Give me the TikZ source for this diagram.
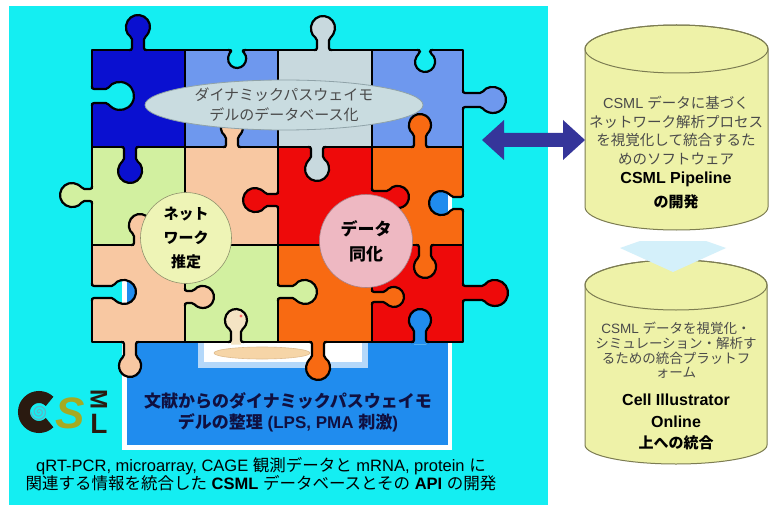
\documentclass[tikz,border=0pt]{standalone}
\usepackage{fontspec}
\setmainfont{Liberation Sans}
\newfontfamily\jp{Noto Sans CJK JP}
\usetikzlibrary{shapes.geometric}

\definecolor{bgcyan}{HTML}{14EEF2}
\definecolor{boxblue}{HTML}{208CEE}
\definecolor{insetblue}{HTML}{B4D8FA}
\definecolor{pdkblue}{HTML}{0A10D0}
\definecolor{pltblue}{HTML}{6E98EE}
\definecolor{pgray}{HTML}{C8D9DE}
\definecolor{pgreen}{HTML}{D2F0A0}
\definecolor{ppeach}{HTML}{F8C8A2}
\definecolor{pred}{HTML}{EE0A0A}
\definecolor{porange}{HTML}{F86A12}
\definecolor{skin}{HTML}{F4E4C4}
\definecolor{ellfill}{HTML}{C9DCE0}
\definecolor{elline}{HTML}{8FA2A8}
\definecolor{netfill}{HTML}{EEF4B6}
\definecolor{assimfill}{HTML}{EEB8C2}
\definecolor{cylfill}{HTML}{EEF2A8}
\definecolor{cylline}{HTML}{7C7C52}
\definecolor{navyarrow}{HTML}{35359A}
\definecolor{palearrow}{HTML}{D4F0FA}
\definecolor{logobrown}{HTML}{2A1A10}
\definecolor{logoolive}{HTML}{A6AA22}
\definecolor{logoteal}{HTML}{58B8C8}
\definecolor{textgray}{HTML}{4A4A4A}
\definecolor{boxtext}{HTML}{101040}

\newcommand{\J}[1]{{\jp #1}}

% cyan ground, with the blue panel (white rim) lying under the puzzle
\newcommand{\underlayer}{%
  \fill[bgcyan] (9,6) rectangle (548,505);
  \fill[white] (122,150) rectangle (452,450);
  \fill[boxblue] (127,150) rectangle (448,445);}

% puzzle tab: #1 colour, #2/#3 base point, #4 direction, #5 centre distance, #6 radius, #7 neck half-width
\newcommand{\pztab}[7]{%
  \begin{scope}[shift={(#2,#3)},rotate=#4]
    \fill[#1] (-2.5,-#7) -- ({#5-sqrt(#6*#6-#7*#7)},-#7)
      arc[start angle={-180+asin(#7/#6)}, end angle={180-asin(#7/#6)}, radius=#6]
      -- (-2.5,#7) -- cycle;
    \draw[pzline] (0,{-#7-3}) -- (0,-#7) -- ({#5-sqrt(#6*#6-#7*#7)},-#7)
      arc[start angle={-180+asin(#7/#6)}, end angle={180-asin(#7/#6)}, radius=#6]
      -- (0,#7) -- (0,{#7+3});
  \end{scope}}

% puzzle blank that lets the ground show through: #1/#2 base point, #3 direction, #4 centre distance, #5 radius, #6 neck half-width
\newcommand{\pzhole}[6]{%
  \begin{scope}[shift={(#1,#2)},rotate=#3]
    \begin{scope}
      \clip (-2.5,-#6) -- ({#4-sqrt(#5*#5-#6*#6)},-#6)
        arc[start angle={-180+asin(#6/#5)}, end angle={180-asin(#6/#5)}, radius=#5]
        -- (-2.5,#6) -- cycle;
      \begin{scope}[reset cm]\underlayer\end{scope}
    \end{scope}
    \draw[pzline] (0,{-#6-3}) -- (0,-#6) -- ({#4-sqrt(#5*#5-#6*#6)},-#6)
      arc[start angle={-180+asin(#6/#5)}, end angle={180-asin(#6/#5)}, radius=#5]
      -- (0,#6) -- (0,{#6+3});
  \end{scope}}

\begin{document}
\begin{tikzpicture}[x=1pt,y=-1pt,
  pzline/.style={line width=2.2pt, black, line join=round, rounded corners=2pt},
  cyl/.style={draw=cylline, line width=1pt, fill=cylfill},
  cyltext/.style={text=textgray, font=\fontsize{14.5}{16}\selectfont, inner sep=0pt},
  cylbold/.style={text=black, font=\bfseries\fontsize{16}{18}\selectfont, inner sep=0pt}]
\useasboundingbox (0,0) rectangle (770,505);
\fill[white] (0,0) rectangle (770,505);
\underlayer

% inset picture frame in the blue panel
\fill[insetblue] (198,300) rectangle (368,368);
\fill[white] (204,300) rectangle (362,362);

% puzzle pieces
\fill[pdkblue] (92,50) rectangle (185,147);
\fill[pltblue] (185,50) rectangle (278,147);
\fill[pgray]   (278,50) rectangle (372,147);
\fill[pltblue] (372,50) rectangle (463,147);
\fill[pgreen]  (92,147) rectangle (185,245);
\fill[ppeach]  (185,147) rectangle (278,245);
\fill[pred]    (278,147) rectangle (372,245);
\fill[porange] (372,147) rectangle (463,245);
\fill[ppeach]  (92,245) rectangle (185,342);
\fill[pgreen]  (185,245) rectangle (278,342);
\fill[porange] (278,245) rectangle (372,342);
\fill[pred]    (372,245) rectangle (463,342);
\draw[pzline, rounded corners=0pt] (92,50) rectangle (463,342);
\draw[pzline, rounded corners=0pt] (185,50) -- (185,342) (278,50) -- (278,342) (372,50) -- (372,342)
  (92,147) -- (463,147) (92,245) -- (463,245);

% tabs and blanks
\pztab{pdkblue}{138}{50}{90}{23}{12}{6}
\pzhole{92}{96}{0}{28}{14}{7}
\pztab{pdkblue}{130}{147}{-90}{24}{12}{6}
\pzhole{237}{50}{-90}{9}{9}{6}
\pztab{ppeach}{232}{147}{90}{20}{11}{6}
\pztab{pgray}{323}{50}{90}{22}{12}{6}
\pztab{pgray}{317}{147}{-90}{22}{12}{6}
\pzhole{425}{50}{-90}{12}{10}{5}
\pztab{pltblue}{463}{100}{0}{30}{13}{7}
\pztab{porange}{420}{147}{90}{22}{11}{6}
\pztab{pgreen}{92}{195}{180}{20}{12}{6}
\pztab{ppeach}{140}{245}{90}{20}{11}{6}
\pztab{pred}{278}{200}{180}{23}{12}{6}
\pztab{pred}{372}{197}{0}{26}{11}{6}
\pzhole{463}{203}{180}{22}{12}{6}
\pzhole{92}{292}{0}{32}{12}{6}
\pztab{ppeach}{130}{342}{-90}{24}{11}{6}
\pztab{ppeach}{185}{297}{0}{18}{11}{6}
\pztab{pgreen}{278}{292}{0}{27}{12}{6}
\pztab{porange}{318}{342}{-90}{26}{12}{6}
\pztab{porange}{372}{297}{0}{22}{10}{5}
\pztab{porange}{425}{245}{-90}{22}{11}{6}
\pztab{pred}{463}{293}{0}{32}{13}{7}
\pzhole{420}{342}{90}{22}{11}{6}

% figure resting in the inset picture
\pztab{skin}{236}{342}{90}{22}{11}{5}
\fill[skin!85!orange, draw=skin!60!brown, line width=0.6pt] (262,353) ellipse [x radius=48, y radius=6];
\fill[red!60] (241,316) circle (1.6);

% labels on the puzzle
\node[ellipse, draw=elline, line width=0.8pt, fill=ellfill, minimum width=278, minimum height=50,
  inner sep=0pt, align=center, text=textgray, font=\jp\fontsize{15}{20}\selectfont] (dbell) at (284,105)
  {ダイナミックパスウェイモ\\デルのデータベース化};
\node[circle, draw=netfill!60!black, line width=0.6pt, fill=netfill, minimum size=91, inner sep=0pt,
  align=center, font=\jp\bfseries\fontsize{15}{24}\selectfont] (netest) at (186,238)
  {ネット\\ワーク\\推定};
\node[circle, draw=assimfill!70!black, line width=0.6pt, fill=assimfill, minimum size=93, inner sep=0pt,
  align=center, font=\jp\bfseries\fontsize{17}{25}\selectfont] (assim) at (366,241)
  {データ\\同化};

% blue panel caption
\node[align=center, text=boxtext, font=\bfseries\fontsize{17}{21}\selectfont] (lit) at (288,412)
  {\J{文献からのダイナミックパスウェイモ}\\\J{デルの整理} (LPS, PMA \J{刺激})};

% database caption
\node[align=center, text=black, font=\fontsize{16.5}{18}\selectfont] (dbdev) at (261,474)
  {qRT-PCR, microarray, CAGE \J{観測データと} mRNA, protein \J{に}\\
   \J{関連する情報を統合した} \textbf{CSML} \J{データベースとその} \textbf{API} \J{の開発}};

% CSML logo
\draw[logobrown, line width=12pt] (49.6,422.6) arc[start angle=45, end angle=315, radius=15];
\draw[logoteal, line width=1.2pt] plot[domain=0:900, samples=90, smooth]
  ({39+8*\x/900*cos(\x)}, {412+8*\x/900*sin(\x)});
\node[font=\bfseries\itshape\fontsize{44}{44}\selectfont, text=logoolive, inner sep=0pt] (logoS) at (70,413) {S};
\node[font=\bfseries\fontsize{24}{24}\selectfont, text=logobrown, rotate=-90, inner sep=0pt] (logoM) at (99,399) {M};
\node[font=\bfseries\fontsize{28}{28}\selectfont, text=logobrown, inner sep=0pt] (logoL) at (99,424) {L};

% lower cylinder: Cell Illustrator Online
\path[cyl] (585,285) -- (585,445) arc[start angle=180, end angle=0, x radius=91, y radius=19]
  -- (767,285) arc[start angle=0, end angle=-180, x radius=91, y radius=25] -- cycle;
\draw[cylline, line width=1pt] (676,285) ellipse [x radius=91, y radius=25];
\node[cyltext, font=\fontsize{13.5}{15}\selectfont] (cioa) at (676,328) {CSML \J{データを視覚化・}};
\node[cyltext, font=\jp\fontsize{13.5}{15}\selectfont] (ciob) at (676,343) {シミュレーション・解析す};
\node[cyltext, font=\jp\fontsize{13.5}{15}\selectfont] (cioc) at (676,358) {るための統合プラットフ};
\node[cyltext, font=\jp\fontsize{13.5}{15}\selectfont] (ciod) at (676,373) {ォーム};
\node[cylbold] (cioe) at (676,400) {Cell Illustrator};
\node[cylbold] (ciof) at (676,422) {Online};
\node[cylbold, font=\jp\bfseries\fontsize{15}{17}\selectfont] (ciog) at (676,443) {上への統合};

% pale arrow from the pipeline down to the platform
\coordinate (flowtip) at (673,272);
\fill[palearrow] (620,248) -- (640,241) -- (706,241) -- (726,248) -- (flowtip) -- cycle;

% upper cylinder: CSML Pipeline
\path[cyl] (585,49) -- (585,207) arc[start angle=180, end angle=0, x radius=91.5, y radius=23]
  -- (768,49) arc[start angle=0, end angle=-180, x radius=91.5, y radius=24] -- cycle;
\draw[cylline, line width=1pt] (676.5,49) ellipse [x radius=91.5, y radius=24];
\node[cyltext] (pipa) at (676,103) {CSML \J{データに基づく}};
\node[cyltext, font=\jp\fontsize{14.5}{16}\selectfont] (pipb) at (676,122) {ネットワーク解析プロセス};
\node[cyltext, font=\jp\fontsize{14.5}{16}\selectfont] (pipc) at (676,140) {を視覚化して統合するた};
\node[cyltext, font=\jp\fontsize{14.5}{16}\selectfont] (pipd) at (676,159) {めのソフトウェア};
\node[cylbold] (pipe) at (676,179) {CSML Pipeline};
\node[cylbold, font=\jp\bfseries\fontsize{15}{17}\selectfont] (pipf) at (676,202) {の開発};

% two-way arrow between the puzzle and the pipeline
\coordinate (arrL) at (482,140);
\coordinate (pipeline) at (585,140);
\fill[navyarrow] (arrL) -- (504,120) -- (504,133) -- (563,133) -- (563,120) -- (pipeline)
  -- (563,160) -- (563,147) -- (504,147) -- (504,160) -- cycle;
\end{tikzpicture}
\end{document}
